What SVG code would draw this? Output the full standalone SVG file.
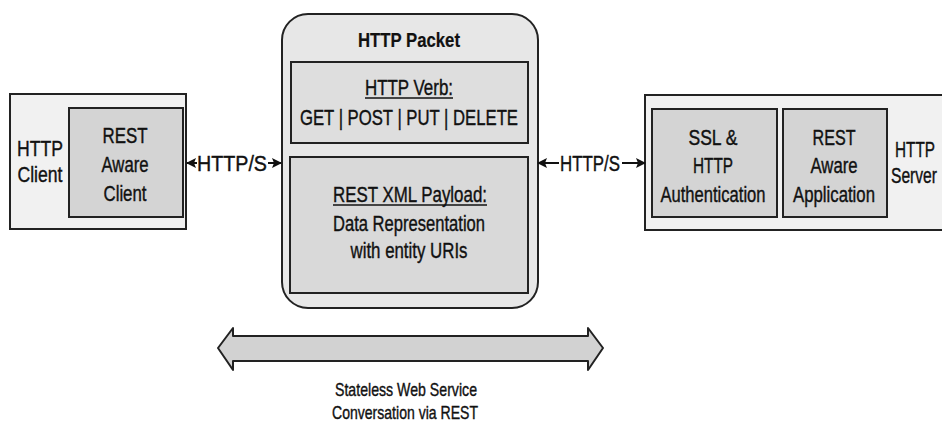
<svg xmlns="http://www.w3.org/2000/svg" width="942" height="431" viewBox="0 0 942 431">
<style>
.t{font-family:"Liberation Sans",Arial,sans-serif;font-size:22px;fill:#111;stroke:#111;stroke-width:0.4;text-anchor:middle}
.b{font-weight:bold;font-size:20px;stroke-width:0.2}
.s{font-size:19px}
.box{stroke:#222;stroke-width:2}
.ln{stroke:#111;stroke-width:2;fill:none}
</style>
<defs>
<marker id="ah" viewBox="0 0 10 10" refX="9" refY="5" markerWidth="10" markerHeight="10" orient="auto-start-reverse" markerUnits="userSpaceOnUse">
<path d="M0,0 L10,5 L0,10 L2,5 Z" fill="#111"/>
</marker>
</defs>
<rect width="942" height="431" fill="#ffffff"/>

<g id="client">
<rect class="box" x="10" y="94" width="176" height="135" fill="#f1f1f1"/>
<text class="t" x="40" y="156" textLength="46" lengthAdjust="spacingAndGlyphs">HTTP</text>
<text class="t" x="40" y="182" textLength="45" lengthAdjust="spacingAndGlyphs">Client</text>
</g>
<g id="rest-client">
<rect class="box" x="69" y="108" width="114" height="109" fill="#d4d4d4"/>
<text class="t" x="125" y="143" textLength="45" lengthAdjust="spacingAndGlyphs">REST</text>
<text class="t" x="125" y="172" textLength="47" lengthAdjust="spacingAndGlyphs">Aware</text>
<text class="t" x="125" y="201" textLength="43" lengthAdjust="spacingAndGlyphs">Client</text>
</g>

<g id="packet">
<rect class="box" x="282" y="14" width="256" height="294" rx="26" ry="26" fill="#e7e7e7"/>
<text class="t b" x="409" y="47" textLength="102" lengthAdjust="spacingAndGlyphs">HTTP Packet</text>
</g>
<g id="verb">
<rect class="box" x="291" y="62" width="237" height="81" fill="#dedede"/>
<text class="t" x="409" y="95" textLength="88" lengthAdjust="spacingAndGlyphs">HTTP Verb:</text>
<line x1="365" y1="98" x2="453" y2="98" stroke="#111" stroke-width="1.5"/>
<text class="t" x="409" y="125" textLength="218" lengthAdjust="spacingAndGlyphs">GET | POST | PUT | DELETE</text>
</g>
<g id="payload">
<rect class="box" x="290" y="157" width="238" height="136" fill="#d9d9d9"/>
<text class="t" x="410" y="202" textLength="154" lengthAdjust="spacingAndGlyphs">REST XML Payload:</text>
<line x1="333" y1="205" x2="487" y2="205" stroke="#111" stroke-width="1.5"/>
<text class="t" x="409" y="231" textLength="152" lengthAdjust="spacingAndGlyphs">Data Representation</text>
<text class="t" x="409" y="258" textLength="117" lengthAdjust="spacingAndGlyphs">with entity URIs</text>
</g>

<g id="server">
<rect class="box" x="645" y="95" width="310" height="135" fill="#f1f1f1"/>
<text class="t" x="915" y="157" textLength="40" lengthAdjust="spacingAndGlyphs">HTTP</text>
<text class="t" x="914" y="183" textLength="46" lengthAdjust="spacingAndGlyphs">Server</text>
</g>
<g id="ssl">
<rect class="box" x="652" y="109" width="125" height="108" fill="#d4d4d4"/>
<text class="t" x="713" y="145" textLength="49" lengthAdjust="spacingAndGlyphs">SSL &amp;</text>
<text class="t" x="713" y="173" textLength="40" lengthAdjust="spacingAndGlyphs">HTTP</text>
<text class="t" x="713" y="202" textLength="105" lengthAdjust="spacingAndGlyphs">Authentication</text>
</g>
<g id="rest-app">
<rect class="box" x="783" y="109" width="104" height="108" fill="#d4d4d4"/>
<text class="t" x="834" y="145" textLength="43" lengthAdjust="spacingAndGlyphs">REST</text>
<text class="t" x="834" y="173" textLength="47" lengthAdjust="spacingAndGlyphs">Aware</text>
<text class="t" x="834" y="202" textLength="82" lengthAdjust="spacingAndGlyphs">Application</text>
</g>

<g id="connectors">
<line class="ln" x1="197" y1="163" x2="187" y2="163" marker-end="url(#ah)"/>
<line class="ln" x1="268" y1="163" x2="281" y2="163" marker-end="url(#ah)"/>
<text class="t" x="232" y="171" textLength="70" lengthAdjust="spacingAndGlyphs">HTTP/S</text>
<line class="ln" x1="559" y1="163" x2="538" y2="163" marker-end="url(#ah)"/>
<line class="ln" x1="622" y1="163" x2="645" y2="163" marker-end="url(#ah)"/>
<text class="t" x="590" y="171" textLength="60" lengthAdjust="spacingAndGlyphs">HTTP/S</text>
<polygon points="218,348 233,328 233,336 588,336 588,328 603,348 588,370 588,361 233,361 233,370" fill="#d2d2d2" stroke="#222" stroke-width="2" stroke-linejoin="round"/>
</g>

<g id="caption">
<text class="t s" x="406" y="396" textLength="142" lengthAdjust="spacingAndGlyphs">Stateless Web Service</text>
<text class="t s" x="405" y="419" textLength="146" lengthAdjust="spacingAndGlyphs">Conversation via REST</text>
</g>
</svg>
